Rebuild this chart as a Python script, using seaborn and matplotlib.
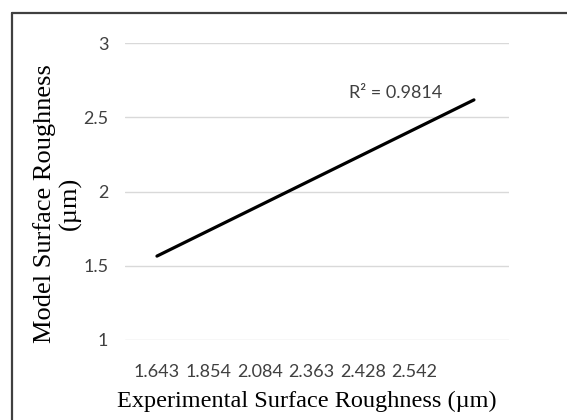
import matplotlib
matplotlib.use("Agg")
import matplotlib.pyplot as plt
import seaborn as sns
import pandas as pd
from matplotlib.lines import Line2D

# Data
categories = ["1.643", "1.854", "2.084", "2.363", "2.428", "2.542"]
trend_pos = [0.0, 6.15]          # trendline start/end (category index units)
trend_val = [1.565, 2.617]       # model surface roughness at trendline ends
y_ticks = [1, 1.5, 2, 2.5, 3]
r2_text = "R² = 0.9814"

sns.set_theme(style="white")
plt.rcParams["font.family"] = ["DejaVu Sans"]

fig = plt.figure(figsize=(5.67, 4.2), dpi=100)
ax = fig.add_axes([125/567, 1-340/420, (509-125)/567, (340-43)/420])

df = pd.DataFrame({"x": trend_pos, "y": trend_val})
sns.lineplot(data=df, x="x", y="y", ax=ax, color="black", linewidth=2.3)

ax.set_xlim(-0.62, 6.83)
ax.set_ylim(1, 3)
ax.set_yticks(y_ticks)
ax.set_yticklabels(["1", "1.5", "2", "2.5", "3"], family="Lato", fontsize=13, color="#404040")
ax.set_xticks(range(len(categories)))
ax.set_xticklabels(categories, family="Lato", fontsize=13, color="#404040")
ax.tick_params(axis="x", length=0, pad=17)
ax.tick_params(axis="y", length=0, pad=12)
ax.grid(axis="y", color="#d9d9d9", linewidth=1.0)
ax.grid(axis="x", visible=False)
for s in ax.spines.values():
    s.set_visible(False)

ax.set_xlabel("Experimental Surface Roughness (µm)", family="Liberation Serif",
              fontsize=17.5, color="black")
ax.set_ylabel("Model Surface Roughness\n(µm)", family="Liberation Serif",
              fontsize=19, color="black", linespacing=1.15)
ax.xaxis.set_label_coords(0.474, -0.172)
ax.yaxis.set_label_coords(-0.112, 0.461)

ax.text(3.73, 2.66, r2_text, family="Lato", fontsize=13, color="#404040",
        ha="left", va="center")

# outer frame
fig.add_artist(Line2D([12/567, 12/567], [0, 1-13/420], transform=fig.transFigure,
                      color="#404040", linewidth=1.6))
fig.add_artist(Line2D([12/567, 1], [1-13/420, 1-13/420], transform=fig.transFigure,
                      color="#404040", linewidth=1.6))

fig.savefig("out.png", dpi=100)
